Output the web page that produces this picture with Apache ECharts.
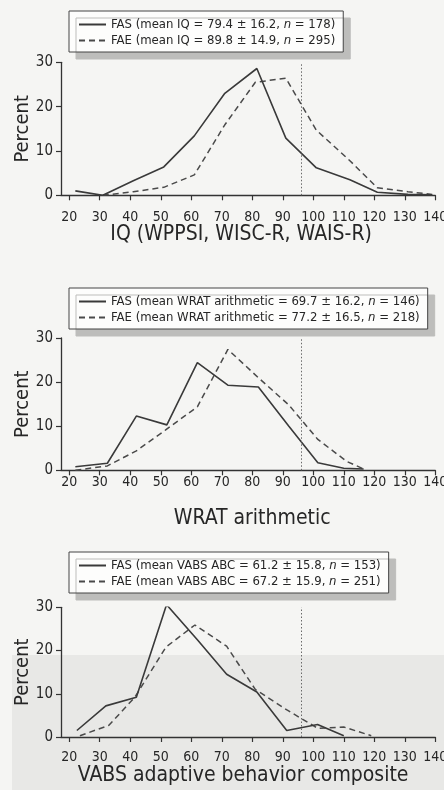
<!DOCTYPE html>
<html>
<head>
<meta charset="utf-8">
<script src="https://cdn.jsdelivr.net/npm/echarts@6/dist/echarts.min.js"></script>
<style>
  html, body { margin: 0; padding: 0; background: #f5f5f3; }
  #chart { width: 444px; height: 790px; }
</style>
</head>
<body>
<div id="chart"></div>
<script>
var FONT = "'Liberation Sans Narrow', 'DejaVu Sans Condensed', sans-serif";

var xTicks = [20, 30, 40, 50, 60, 70, 80, 90, 100, 110, 120, 130, 140];
var cutoff = 96;

// IQ panel
var iqFasX = [22, 31, 41, 51, 61, 71, 81.5, 91, 101, 112, 121, 131, 139];
var iqFasY = [1.0, 0, 3.3, 6.4, 13.4, 23.0, 28.6, 12.9, 6.2, 3.5, 0.7, 0.2, 0.1];
var iqFaeX = [31, 41, 51, 61, 71, 81, 91, 101, 112, 121, 131, 139];
var iqFaeY = [0, 0.8, 1.8, 4.6, 15.9, 25.5, 26.4, 14.7, 7.8, 1.7, 0.8, 0.2];

// WRAT arithmetic panel
var wratFasX = [22, 32.5, 42, 52, 62, 72, 82, 92, 101.5, 110, 116.5];
var wratFasY = [0.8, 1.6, 12.3, 10.3, 24.4, 19.3, 18.9, 10.0, 1.7, 0.45, 0.3];
var wratFaeX = [22, 32.5, 42, 51.5, 62, 72, 82, 92, 101.5, 111, 116.5];
var wratFaeY = [0, 1.0, 4.4, 9.1, 14.4, 27.4, 21.0, 14.8, 7.0, 2.0, 0.3];

// VABS panel
var vabsFasX = [22.5, 32, 42, 51.9, 62, 71.6, 81.5, 91.3, 101.4, 110];
var vabsFasY = [1.5, 7.2, 9.2, 30.6, 22.5, 14.5, 10.4, 1.5, 2.9, 0.3];
var vabsFaeX = [23.5, 33, 41.5, 51.7, 61.2, 71.6, 81, 91.5, 101.5, 110, 119];
var vabsFaeY = [0.3, 2.7, 9.2, 20.8, 25.9, 21.0, 11.0, 6.2, 2.0, 2.3, 0.3];

var fasNames = [
    'FAS (mean IQ = 79.4 \u00b1 16.2, n = 178)',
    'FAS (mean WRAT arithmetic = 69.7 \u00b1 16.2, n = 146)',
    'FAS (mean VABS ABC = 61.2 \u00b1 15.8, n = 153)'
];
var faeNames = [
    'FAE (mean IQ = 89.8 \u00b1 14.9, n = 295)',
    'FAE (mean WRAT arithmetic = 77.2 \u00b1 16.5, n = 218)',
    'FAE (mean VABS ABC = 67.2 \u00b1 15.9, n = 251)'
];
var axisTitles = [
    'IQ (WPPSI, WISC-R, WAIS-R)',
    'WRAT arithmetic',
    'VABS adaptive behavior composite'
];

function pairs(xs, ys) {
    return xs.map(function (x, i) { return [x, ys[i]]; });
}

var panels = [
    { fas: pairs(iqFasX, iqFasY), fae: pairs(iqFaeX, iqFaeY) },
    { fas: pairs(wratFasX, wratFasY), fae: pairs(wratFaeX, wratFaeY) },
    { fas: pairs(vabsFasX, vabsFasY), fae: pairs(vabsFaeX, vabsFaeY) }
];

// layout per panel
var gridTops = [62.3, 338, 607.3];
var gridHeights = [133, 132.3, 129.7];
var legendTops = [11, 288, 552];
var labelMargins = [15, 5, 13];
var nameGaps = [29, 38, 28];
var namePads = [[0, 14, 0, 0], [0, 0, 0, 8], [0, 10, 0, 0]];

var ink = '#262626';

var grid = [], xAxis = [], yAxis = [], legend = [], series = [];
panels.forEach(function (p, i) {
    grid.push({ left: 61, right: 8.7, top: gridTops[i], height: gridHeights[i], outerBoundsMode: 'none' });
    xAxis.push({
        type: 'value', gridIndex: i, min: 17.3, max: 140,
        name: axisTitles[i], nameLocation: 'middle', nameGap: nameGaps[i], nameMoveOverlap: false,
        nameTextStyle: { fontFamily: FONT, fontSize: 21, color: ink, padding: namePads[i] },
        axisLine: { lineStyle: { color: '#333', width: 1.3 } },
        axisTick: { customValues: xTicks, length: 5, lineStyle: { color: '#333', width: 1.2 } },
        axisLabel: { customValues: xTicks, fontFamily: FONT, fontSize: 14, color: ink, margin: labelMargins[i] },
        splitLine: { show: false }
    });
    yAxis.push({
        type: 'value', gridIndex: i, min: 0, max: 30, interval: 10,
        name: 'Percent', nameLocation: 'middle', nameGap: 28, nameMoveOverlap: false,
        nameTextStyle: { fontFamily: FONT, fontSize: 20, color: ink },
        axisLine: { show: true, lineStyle: { color: '#333', width: 1.3 } },
        axisTick: { show: true, length: 5, lineStyle: { color: '#333', width: 1.2 } },
        axisLabel: { fontFamily: FONT, fontSize: 15, color: ink, margin: 8 },
        splitLine: { show: false }
    });
    legend.push({
        orient: 'vertical', left: 69, top: legendTops[i],
        data: [fasNames[i], faeNames[i]],
        itemWidth: 27, itemHeight: 14, itemGap: 3,
        padding: [7, 8, 5, 9],
        backgroundColor: '#fdfdfc',
        borderColor: '#444', borderWidth: 1,
        shadowColor: '#bdbdbb', shadowBlur: 0, shadowOffsetX: 7, shadowOffsetY: 7,
        selectedMode: false,
        itemStyle: { opacity: 0 },
        formatter: function (name) { return name.replace(', n =', ', {i|n} ='); },
        textStyle: {
            fontFamily: FONT, fontSize: 13, color: ink,
            rich: { i: { fontFamily: FONT, fontSize: 13, fontStyle: 'italic', color: ink } }
        }
    });
    series.push({
        name: fasNames[i], type: 'line', xAxisIndex: i, yAxisIndex: i,
        data: p.fas, symbol: 'none', z: 3,
        lineStyle: { color: '#3a3a3a', width: 1.6, type: 'solid' },
        itemStyle: { color: '#3a3a3a' },
        markLine: {
            silent: true, symbol: ['none', 'none'], label: { show: false },
            lineStyle: { color: '#6a6a6a', width: 1, type: [1.5, 2] },
            data: [{ xAxis: cutoff }]
        }
    });
    series.push({
        name: faeNames[i], type: 'line', xAxisIndex: i, yAxisIndex: i,
        data: p.fae, symbol: 'none', z: 2,
        lineStyle: { color: '#4a4a4a', width: 1.5, type: [6, 4] },
        itemStyle: { color: '#4a4a4a' }
    });
});

var chart = echarts.init(document.getElementById('chart'));
chart.setOption({
    animation: false,
    graphic: [{
        type: 'rect', z: -10,
        shape: { x: 12, y: 655, width: 432, height: 135 },
        style: { fill: '#e8e8e6' }
    }],
    grid: grid,
    xAxis: xAxis,
    yAxis: yAxis,
    legend: legend,
    series: series
});
</script>
</body>
</html>
